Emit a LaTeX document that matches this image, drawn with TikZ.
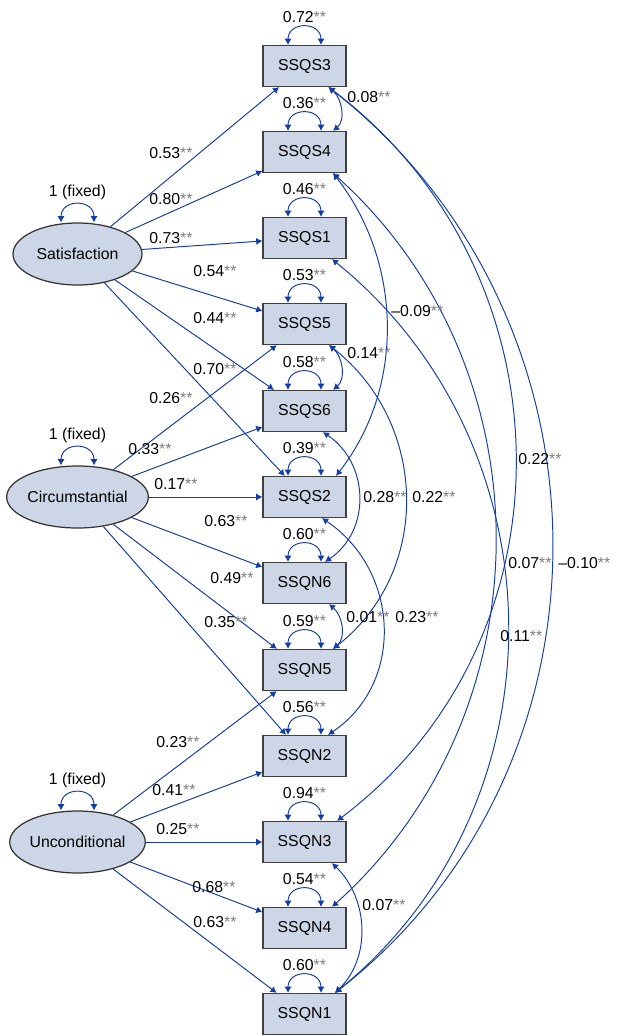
\documentclass[tikz,border=0pt]{standalone}
\usepackage{fontspec}
\setmainfont{Liberation Sans}
\usepackage{xcolor}
\usepackage{tikz}
\usetikzlibrary{arrows.meta,shapes.geometric}

\definecolor{pathblue}{RGB}{20,60,165}
\definecolor{boxfill}{RGB}{204,214,230}
\definecolor{stargray}{RGB}{125,125,125}
\newcommand{\coef}[1]{#1{\color{stargray}**}}

\begin{document}
\begin{tikzpicture}[
  font=\fontsize{9pt}{11pt}\selectfont,
  obs/.style={draw=black!75, fill=boxfill, line width=0.7pt, minimum width=1.66cm, minimum height=0.82cm, inner sep=0pt},
  lat/.style={ellipse, draw=black!80, fill=boxfill, line width=0.7pt, minimum width=2.58cm, minimum height=1.24cm, inner sep=0pt},
  arrow/.style={-{Latex[length=3.5pt,width=4pt]}, pathblue, line width=0.55pt},
  cov/.style={{Latex[length=3.5pt,width=4pt]}-{Latex[length=3.5pt,width=4pt]}, pathblue, line width=0.55pt},
  varloop/.style={cov, out=90, in=90, looseness=1.85},
  lbl/.style={inner sep=0pt, anchor=west, text=black}
]
\useasboundingbox (0,0) rectangle (12.38,-20.72);

% factors
\node[lat] (sat) at (1.55,-5.08) {Satisfaction};
\node[lat] (cir) at (1.55,-9.94) {Circumstantial};
\node[lat] (unc) at (1.55,-16.84) {Unconditional};

% indicators
\node[obs] (s3) at (6.09,-1.32) {SSQS3};
\node[obs] (s4) at (6.09,-3.04) {SSQS4};
\node[obs] (s1) at (6.09,-4.76) {SSQS1};
\node[obs] (s5) at (6.09,-6.48) {SSQS5};
\node[obs] (s6) at (6.09,-8.22) {SSQS6};
\node[obs] (s2) at (6.09,-9.94) {SSQS2};
\node[obs] (n6) at (6.09,-11.66) {SSQN6};
\node[obs] (n5) at (6.09,-13.40) {SSQN5};
\node[obs] (n2) at (6.09,-15.12) {SSQN2};
\node[obs] (n3) at (6.09,-16.84) {SSQN3};
\node[obs] (n4) at (6.09,-18.56) {SSQN4};
\node[obs] (n1) at (6.09,-20.28) {SSQN1};

% loadings
\draw[arrow] (sat) -- (s3);
\draw[arrow] (sat) -- (s4);
\draw[arrow] (sat) -- (s1);
\draw[arrow] (sat) -- (s5);
\draw[arrow] (sat) -- (s6);
\draw[arrow] (sat) -- (s2);
\draw[arrow] (cir) -- (s5);
\draw[arrow] (cir) -- (s6);
\draw[arrow] (cir) -- (s2);
\draw[arrow] (cir) -- (n6);
\draw[arrow] (cir) -- (n5);
\draw[arrow] (cir) -- (n2);
\draw[arrow] (unc) -- (n5);
\draw[arrow] (unc) -- (n2);
\draw[arrow] (unc) -- (n3);
\draw[arrow] (unc) -- (n4);
\draw[arrow] (unc) -- (n1);

\node[lbl] (l-sat-s3) at (2.98,-3.06) {\coef{0.53}};
\node[lbl] (l-sat-s4) at (2.98,-3.98) {\coef{0.80}};
\node[lbl] (l-sat-s1) at (2.98,-4.76) {\coef{0.73}};
\node[lbl] (l-sat-s5) at (3.86,-5.42) {\coef{0.54}};
\node[lbl] (l-sat-s6) at (3.86,-6.36) {\coef{0.44}};
\node[lbl] (l-sat-s2) at (3.86,-7.38) {\coef{0.70}};
\node[lbl] (l-cir-s5) at (2.98,-7.96) {\coef{0.26}};
\node[lbl] (l-cir-s6) at (2.56,-8.98) {\coef{0.33}};
\node[lbl] (l-cir-s2) at (3.08,-9.68) {\coef{0.17}};
\node[lbl] (l-cir-n6) at (4.08,-10.42) {\coef{0.63}};
\node[lbl] (l-cir-n5) at (4.20,-11.56) {\coef{0.49}};
\node[lbl] (l-cir-n2) at (4.08,-12.44) {\coef{0.35}};
\node[lbl] (l-unc-n5) at (3.12,-14.84) {\coef{0.23}};
\node[lbl] (l-unc-n2) at (3.04,-15.80) {\coef{0.41}};
\node[lbl] (l-unc-n3) at (3.12,-16.58) {\coef{0.25}};
\node[lbl] (l-unc-n4) at (3.84,-17.74) {\coef{0.68}};
\node[lbl] (l-unc-n1) at (3.86,-18.44) {\coef{0.63}};

% variances
\draw[varloop] ([xshift=-3.3mm]sat.north) to node[lbl, above=2.2pt] {1 (fixed)} ([xshift=3.3mm]sat.north);
\draw[varloop] ([xshift=-3.3mm]cir.north) to node[lbl, above=2.2pt] {1 (fixed)} ([xshift=3.3mm]cir.north);
\draw[varloop] ([xshift=-3.3mm]unc.north) to node[lbl, above=2.2pt] {1 (fixed)} ([xshift=3.3mm]unc.north);
\draw[varloop] ([xshift=-3.3mm]s3.north) to node[lbl, above=2pt] {\coef{0.72}} ([xshift=3.3mm]s3.north);
\draw[varloop] ([xshift=-3.3mm]s4.north) to node[lbl, above=2pt] {\coef{0.36}} ([xshift=3.3mm]s4.north);
\draw[varloop] ([xshift=-3.3mm]s1.north) to node[lbl, above=2pt] {\coef{0.46}} ([xshift=3.3mm]s1.north);
\draw[varloop] ([xshift=-3.3mm]s5.north) to node[lbl, above=2pt] {\coef{0.53}} ([xshift=3.3mm]s5.north);
\draw[varloop] ([xshift=-3.3mm]s6.north) to node[lbl, above=2pt] {\coef{0.58}} ([xshift=3.3mm]s6.north);
\draw[varloop] ([xshift=-3.3mm]s2.north) to node[lbl, above=2pt] {\coef{0.39}} ([xshift=3.3mm]s2.north);
\draw[varloop] ([xshift=-3.3mm]n6.north) to node[lbl, above=2pt] {\coef{0.60}} ([xshift=3.3mm]n6.north);
\draw[varloop] ([xshift=-3.3mm]n5.north) to node[lbl, above=2pt] {\coef{0.59}} ([xshift=3.3mm]n5.north);
\draw[varloop] ([xshift=-3.3mm]n2.north) to node[lbl, above=2pt] {\coef{0.56}} ([xshift=3.3mm]n2.north);
\draw[varloop] ([xshift=-3.3mm]n3.north) to node[lbl, above=2pt] {\coef{0.94}} ([xshift=3.3mm]n3.north);
\draw[varloop] ([xshift=-3.3mm]n4.north) to node[lbl, above=2pt] {\coef{0.54}} ([xshift=3.3mm]n4.north);
\draw[varloop] ([xshift=-3.3mm]n1.north) to node[lbl, above=2pt] {\coef{0.60}} ([xshift=3.3mm]n1.north);

% error covariances
\draw[cov] ([xshift=4.8mm]s3.south) to[out=-40,in=40] ([xshift=5.7mm]s4.north);
\draw[cov] ([xshift=4.9mm]s5.south) to[out=-40,in=40] ([xshift=5.7mm]s6.north);
\draw[cov] ([xshift=4.9mm]n6.south) to[out=-40,in=40] ([xshift=5.7mm]n5.north);
\draw[cov] ([xshift=5.5mm]n3.south) to[out=-44,in=44] ([xshift=6.1mm]n1.north);
\draw[cov] ([xshift=5.7mm]s4.south) to[out=-52,in=52,looseness=0.95] ([xshift=6.3mm]s2.north);
\draw[cov] ([xshift=3.7mm]s6.south) to[out=-34,in=34,looseness=1.1] ([xshift=4.1mm]n6.north);
\draw[cov] ([xshift=4.9mm]s5.south) to[out=-38,in=38,looseness=1.06] ([xshift=5.7mm]n5.north);
\draw[cov] ([xshift=3.5mm]s2.south) to[out=-34,in=34,looseness=1.1] ([xshift=4.7mm]n2.north);
\draw[cov] ([xshift=4.8mm]s3.south) to[out=-37,in=37,looseness=1.06] ([xshift=6.5mm]n3.north);
\draw[cov] ([xshift=5.7mm]s4.south) to[out=-42,in=42,looseness=1.02] ([xshift=5.5mm]n4.north);
\draw[cov] ([xshift=5.5mm]s1.south) to[out=-39,in=39,looseness=1.04] ([xshift=6.1mm]n1.north);
\draw[cov] ([xshift=4.8mm]s3.south) to[out=-38,in=38,looseness=1.05] ([xshift=6.1mm]n1.north);

\node[lbl] (l-s3-s4) at (6.94,-1.94) {\coef{0.08}};
\node[lbl] (l-s4-s2) at (7.82,-6.22) {\coef{\textendash0.09}};
\node[lbl] (l-s5-s6) at (6.94,-7.06) {\coef{0.14}};
\node[lbl] (l-s6-n6) at (7.26,-9.94) {\coef{0.28}};
\node[lbl] (l-s5-n5) at (8.24,-9.94) {\coef{0.22}};
\node[lbl] (l-s3-n3) at (10.36,-9.18) {\coef{0.22}};
\node[lbl] (l-s4-n4) at (10.16,-11.26) {\coef{0.07}};
\node[lbl] (l-s3-n1) at (11.16,-11.26) {\coef{\textendash0.10}};
\node[lbl] (l-n6-n5) at (6.92,-12.34) {\coef{0.01}};
\node[lbl] (l-s2-n2) at (7.90,-12.34) {\coef{0.23}};
\node[lbl] (l-s1-n1) at (10.00,-12.72) {\coef{0.11}};
\node[lbl] (l-n3-n1) at (7.24,-18.10) {\coef{0.07}};
\end{tikzpicture}
\end{document}
